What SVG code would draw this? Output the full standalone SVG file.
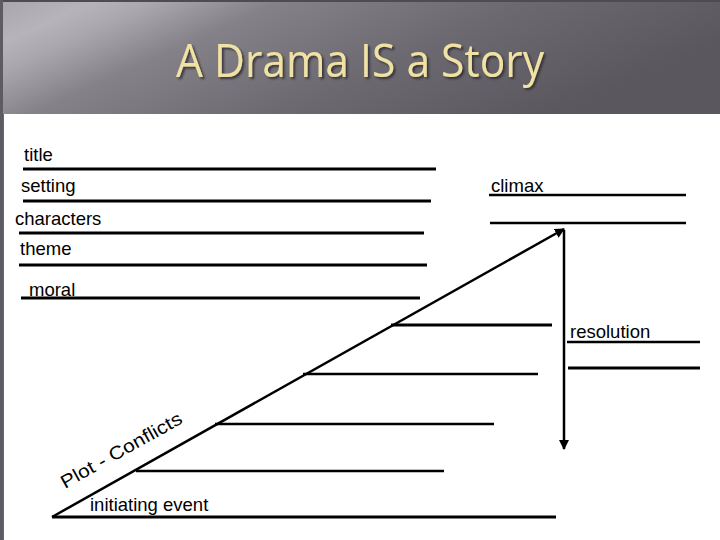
<svg xmlns="http://www.w3.org/2000/svg" width="720" height="540" viewBox="0 0 720 540">
<defs>
<linearGradient id="hdr" x1="0" y1="0" x2="1" y2="0.35">
<stop offset="0" stop-color="#a8a6ac"/>
<stop offset="0.12" stop-color="#b6b4ba"/>
<stop offset="0.2" stop-color="#a9a7ad"/>
<stop offset="0.35" stop-color="#848288"/>
<stop offset="0.65" stop-color="#6c6a70"/>
<stop offset="1" stop-color="#5a585e"/>
</linearGradient>
<marker id="arr" viewBox="0 0 10 10" refX="9" refY="5" markerWidth="4" markerHeight="4" orient="auto" markerUnits="strokeWidth">
<path d="M0,0 L10,5 L0,10 z" fill="#000"/>
</marker>
<filter id="sh" x="-5%" y="-20%" width="110%" height="150%">
<feDropShadow dx="2" dy="2" stdDeviation="0.8" flood-color="#2e2c30" flood-opacity="0.85"/>
</filter>
</defs>
<style>
.lbl{font-family:"Liberation Sans",Arial,sans-serif;font-size:18.5px;fill:#000}
.ln{stroke:#000;stroke-width:3;fill:none}
.ln2{stroke:#000;stroke-width:2.5;fill:none}
.ttl{font-family:"Open Sans","DejaVu Sans",sans-serif;font-size:46px}
</style>
<rect x="0" y="0" width="720" height="540" fill="#6a686e"/>
<rect x="0" y="0" width="720" height="114" fill="url(#hdr)"/>
<rect x="0" y="0" width="720" height="2" fill="#4e4c52"/>
<rect x="0" y="0" width="3" height="540" fill="#5e5c62"/>
<rect x="4" y="114" width="716" height="426" fill="#ffffff"/>
<g id="title">
<text x="176" y="77" class="ttl" fill="#f0e2a4" filter="url(#sh)" textLength="368" lengthAdjust="spacingAndGlyphs">A Drama IS a Story</text>
</g>
<g id="labels-left">
<g id="title-field"><text x="24" y="161" class="lbl">title</text><line x1="23" y1="169" x2="436" y2="169" class="ln"/></g>
<g id="setting-field"><text x="21" y="192" class="lbl">setting</text><line x1="23" y1="201" x2="431" y2="201" class="ln"/></g>
<g id="characters-field"><text x="15" y="225" class="lbl">characters</text><line x1="19" y1="233" x2="424" y2="233" class="ln"/></g>
<g id="theme-field"><text x="20" y="255" class="lbl">theme</text><line x1="19" y1="265" x2="427" y2="265" class="ln"/></g>
<g id="moral-field"><text x="29" y="296" class="lbl">moral</text><line x1="21" y1="298" x2="420" y2="298" class="ln"/></g>
</g>
<g id="climax">
<text x="491" y="192" class="lbl">climax</text>
<line x1="489" y1="195" x2="686" y2="195" class="ln2"/>
<line x1="490" y1="223" x2="686" y2="223" class="ln2"/>
</g>
<g id="resolution">
<text x="570" y="338" class="lbl">resolution</text>
<line x1="567" y1="342" x2="700" y2="342" class="ln2"/>
<line x1="568" y1="368" x2="700" y2="368" class="ln"/>
</g>
<g id="connectors">
<line x1="52" y1="517" x2="564" y2="229" stroke="#000" stroke-width="2.5" marker-end="url(#arr)"/>
<line x1="564" y1="230" x2="564" y2="449" stroke="#000" stroke-width="2.5" marker-end="url(#arr)"/>
</g>
<g id="steps">
<line x1="391" y1="325" x2="552" y2="325" class="ln"/>
<line x1="303" y1="374" x2="538" y2="374" class="ln2"/>
<line x1="215" y1="424" x2="494" y2="424" class="ln2"/>
<line x1="136" y1="471" x2="444" y2="471" class="ln2"/>
<line x1="52" y1="517" x2="556" y2="517" class="ln"/>
</g>
<g id="plot-label">
<text x="0" y="0" class="lbl" font-size="21" transform="translate(65,489) rotate(-29.3)" textLength="136" lengthAdjust="spacingAndGlyphs">Plot - Conflicts</text>
</g>
<g id="initiating">
<text x="90" y="511" class="lbl">initiating event</text>
</g>
</svg>
